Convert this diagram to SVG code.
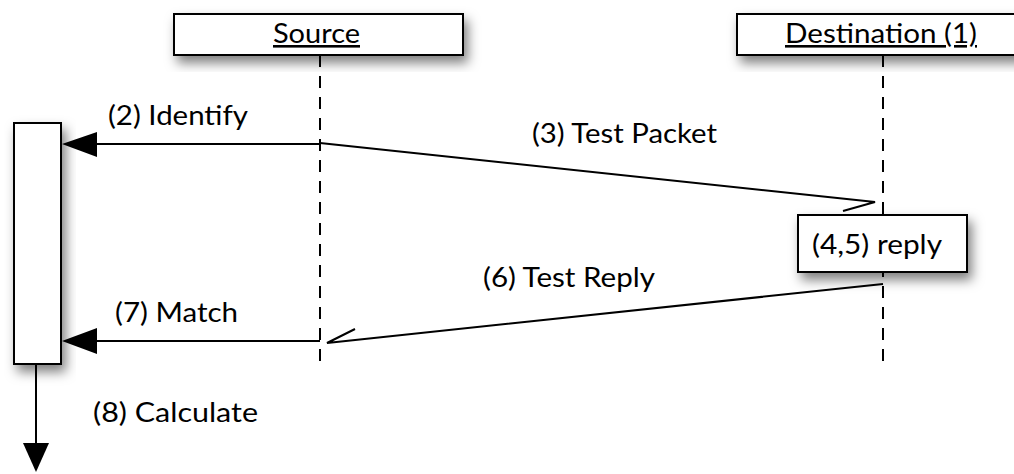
<svg xmlns="http://www.w3.org/2000/svg" width="1014" height="474" viewBox="0 0 1014 474">
<defs>
<filter id="sh" x="-20%" y="-20%" width="150%" height="160%">
<feDropShadow dx="4" dy="7" stdDeviation="6" flood-color="#000" flood-opacity="0.5"/>
</filter>
</defs>
<style>
.box{fill:#fff;stroke:#000;stroke-width:2}
.life{stroke:#000;stroke-width:2;stroke-dasharray:12 9;fill:none}
.ln{stroke:#000;stroke-width:2;fill:none}
.head{fill:#000;stroke:none}
text{font-family:Lato,"Open Sans","Liberation Sans",sans-serif;font-size:26px;fill:#000}
.u{text-decoration:underline}
</style>
<rect width="1014" height="474" fill="#fff"/>
<g id="lifelines">
<line class="life" x1="320" y1="55" x2="320" y2="366"/>
<line class="life" x1="883" y1="55" x2="883" y2="366"/>
</g>
<g id="source">
<rect class="box" x="174" y="14" width="289" height="41" filter="url(#sh)"/>
<text class="u" x="273" y="43" textLength="87" lengthAdjust="spacingAndGlyphs">Source</text>
</g>
<g id="destination">
<rect class="box" x="737" y="14" width="290" height="41" filter="url(#sh)"/>
<text class="u" x="785" y="43" textLength="192" lengthAdjust="spacingAndGlyphs">Destination (1)</text>
</g>
<g id="observer">
<rect class="box" x="14" y="123" width="47" height="241" filter="url(#sh)" stroke-width="2.5"/>
</g>
<g id="reply">
<rect class="box" x="798" y="215" width="169" height="57" filter="url(#sh)"/>
<text x="812" y="254" textLength="130" lengthAdjust="spacingAndGlyphs">(4,5) reply</text>
</g>
<g id="connectors">
<line class="ln" x1="320" y1="144" x2="95" y2="144"/>
<polygon class="head" points="62,144 97,132 97,157"/>
<polyline class="ln" points="320,143 875,202 843,211"/>
<polyline class="ln" points="883,284 327,343 355,329"/>
<line class="ln" x1="320" y1="341" x2="95" y2="341"/>
<polygon class="head" points="62,341 97,328 97,354"/>
<line class="ln" x1="36" y1="364" x2="36" y2="446"/>
<polygon class="head" points="23,443 49,443 36,472"/>
</g>
<g id="labels">
<text x="108" y="125" textLength="140" lengthAdjust="spacingAndGlyphs">(2) Identify</text>
<text x="532" y="143" textLength="185" lengthAdjust="spacingAndGlyphs">(3) Test Packet</text>
<text x="483" y="287" textLength="172" lengthAdjust="spacingAndGlyphs">(6) Test Reply</text>
<text x="115" y="322" textLength="123" lengthAdjust="spacingAndGlyphs">(7) Match</text>
<text x="93" y="422" textLength="165" lengthAdjust="spacingAndGlyphs">(8) Calculate</text>
</g>
</svg>
